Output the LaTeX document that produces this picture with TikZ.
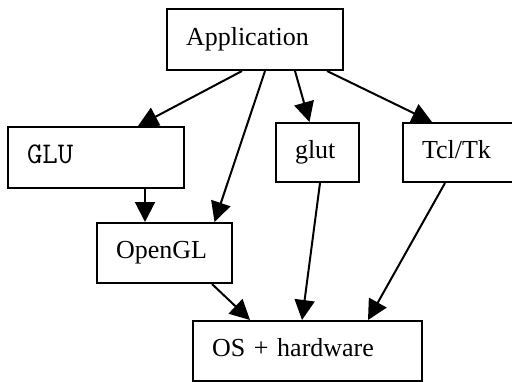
\documentclass[tikz,border=0pt]{standalone}
\usepackage{fontspec}
\setmainfont{Liberation Serif}
\usetikzlibrary{arrows.meta}
\begin{document}
\begin{tikzpicture}[x=0.5pt,y=-0.5pt,>={Triangle[length=10pt,width=10pt]},
  box/.style={draw,line width=1pt,align=left,inner xsep=9.5pt,inner ysep=0pt,text height=9pt,text depth=3.5pt,font=\fontsize{13pt}{15pt}\selectfont},
  link/.style={->,line width=1pt}]
\useasboundingbox (0,0) rectangle (512,381);
\node[box,text width=69pt,minimum height=30.5pt] (app) at (255,39.5) {Application};
\node[box,text width=69pt,minimum height=30.5pt,font=\fontsize{15pt}{17pt}\ttfamily] (glu) at (96,157.5) {GLU};
\node[box,text width=48.5pt,minimum height=30pt] (opengl) at (164.5,253) {OpenGL};
\node[box,text width=22.5pt,minimum height=29.5pt] (glut) at (317.5,152.5) {glut};
\node[box,text width=41pt,minimum height=29.5pt] (tcltk) at (463,152.5) {Tcl/Tk};
\node[box,text width=95.5pt,minimum height=30pt] (os) at (307.5,351) {OS + hardware};
\draw[link]([xshift=-6.5pt]app.south)--([xshift=21pt]glu.north);
\draw[link]([xshift=5pt]app.south)--([xshift=25pt]opengl.north);
\draw[link]([xshift=20pt]app.south)--([xshift=-4pt]glut.north);
\draw[link]([xshift=36pt]app.south)--([xshift=-15.5pt]tcltk.north);
\draw[link]([xshift=24.5pt]glu.south)--([xshift=24.5pt]glu.south |- opengl.north);
\draw[link]([xshift=23.75pt]opengl.south)--([xshift=-28.75pt]os.north);
\draw[link]([xshift=1.25pt]glut.south)--([xshift=-2.75pt]os.north);
\draw[link]([xshift=-9pt]tcltk.south)--([xshift=30.25pt]os.north);
\end{tikzpicture}
\end{document}
